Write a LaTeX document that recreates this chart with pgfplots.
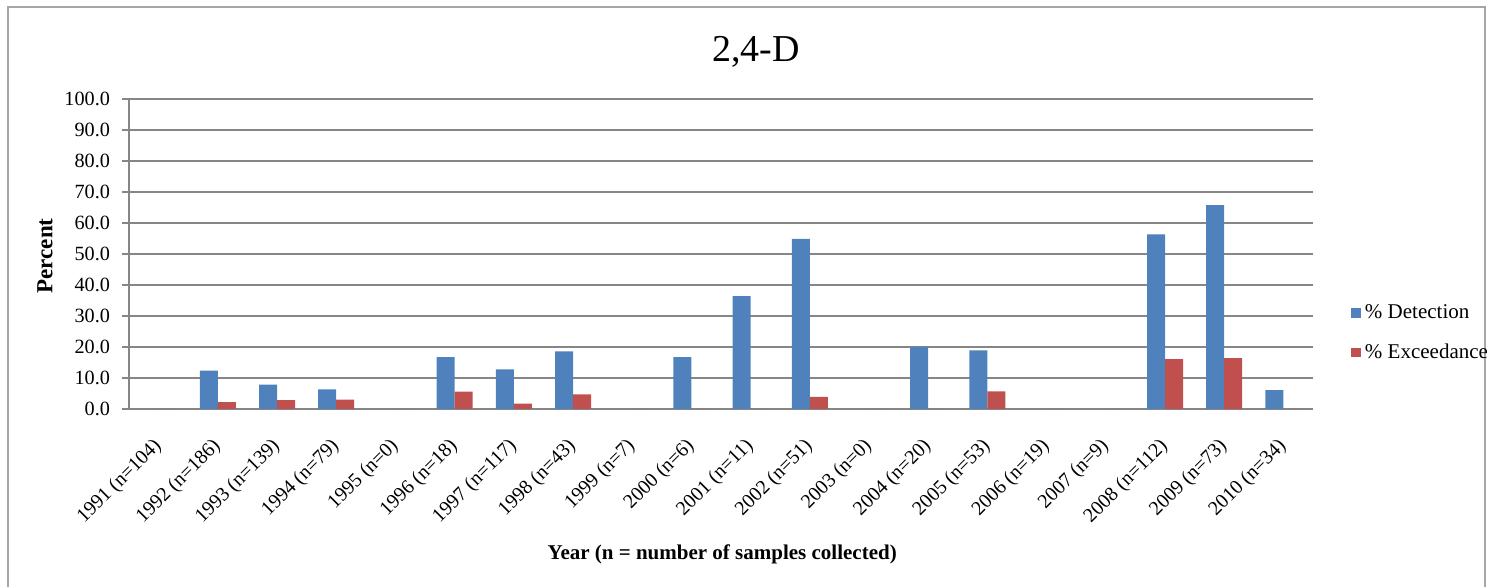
\documentclass[border=0pt]{standalone}
\usepackage{pgfplots}
\usepackage{pgfplotstable}
\pgfplotsset{compat=1.18}
\usepackage{fontspec}
\setmainfont{Liberation Serif}
\definecolor{detblue}{HTML}{4F81BD}
\definecolor{excred}{HTML}{C0504D}
\definecolor{gridgray}{HTML}{868686}
\definecolor{framegray}{HTML}{A6A6A6}

% x = category index, det = % detection, exc = % exceedance
\pgfplotstableread{
x det  exc
0  0    0
1  12.4 2.2
2  7.9  2.9
3  6.3  3.0
4  0    0
5  16.7 5.6
6  12.8 1.7
7  18.6 4.7
8  0    0
9  16.7 0
10 36.4 0
11 54.9 3.9
12 0    0
13 20.0 0
14 18.9 5.7
15 0    0
16 0    0
17 56.3 16.1
18 65.8 16.4
19 6.1  0
}\datatable

\begin{document}
\begin{tikzpicture}
\useasboundingbox (0,0) rectangle (743.5pt,293.5pt);
\draw[framegray, line width=0.8pt] (4pt,-5pt) rectangle (742.6pt,290pt);
\begin{axis}[
  at={(64.5pt,89pt)}, anchor=south west,
  scale only axis, width=592pt, height=155pt,
  ybar=0pt, bar width=9pt,
  xmin=-0.5, xmax=19.5, ymin=0, ymax=100,
  axis lines*=left,
  axis line style={gridgray, line width=1pt},
  ytick={0,10,...,100},
  y tick label style={/pgf/number format/fixed, /pgf/number format/fixed zerofill, /pgf/number format/precision=1},
  /pgf/number format/assume math mode=true,
  ymajorgrids, major grid style={gridgray, line width=1pt},
  tick align=outside, major tick length=3.5pt,
  ytick style={gridgray, line width=1pt},
  xtick={0,...,19}, xtick style={draw=none},
  xticklabels={1991 (n=104),1992 (n=186),1993 (n=139),1994 (n=79),1995 (n=0),1996 (n=18),1997 (n=117),1998 (n=43),1999 (n=7),2000 (n=6),2001 (n=11),2002 (n=51),2003 (n=0),2004 (n=20),2005 (n=53),2006 (n=19),2007 (n=9),2008 (n=112),2009 (n=73),2010 (n=34)},
  xticklabel style={rotate=45, anchor=north east, font=\fontsize{10}{12}\selectfont, xshift=-6.1pt, yshift=-1.4pt},
  yticklabel style={font=\fontsize{10.1}{12}\selectfont, xshift=-2.5pt},
  title={2,4-D},
  title style={at={(axis description cs:0.5296,1.113)}, anchor=center, font=\fontsize{19}{22}\selectfont},
  xlabel={\textbf{Year (n = number of samples collected)}},
  xlabel style={at={(axis description cs:0.501,-0.47)}, anchor=center, font=\fontsize{10.5}{12.5}\selectfont},
  ylabel={\textbf{Percent}},
  ylabel style={at={(axis description cs:-0.071,0.494)}, anchor=center, rotate=0, font=\fontsize{11.5}{13.5}\selectfont},
  legend style={at={(axis description cs:1.027,0.245)}, anchor=west, draw=none, fill=none,
    font=\fontsize{10.5}{12}\selectfont, row sep=7pt, cells={anchor=west}},
  legend image code/.code={\fill[#1] (0pt,-2.4pt) rectangle (4.8pt,2.4pt);},
]
\addplot[fill=detblue, draw=none] table[x=x, y=det] {\datatable};
\addplot[fill=excred, draw=none] table[x=x, y=exc] {\datatable};
\legend{\% Detection, \% Exceedance}
\end{axis}
\end{tikzpicture}
\end{document}
